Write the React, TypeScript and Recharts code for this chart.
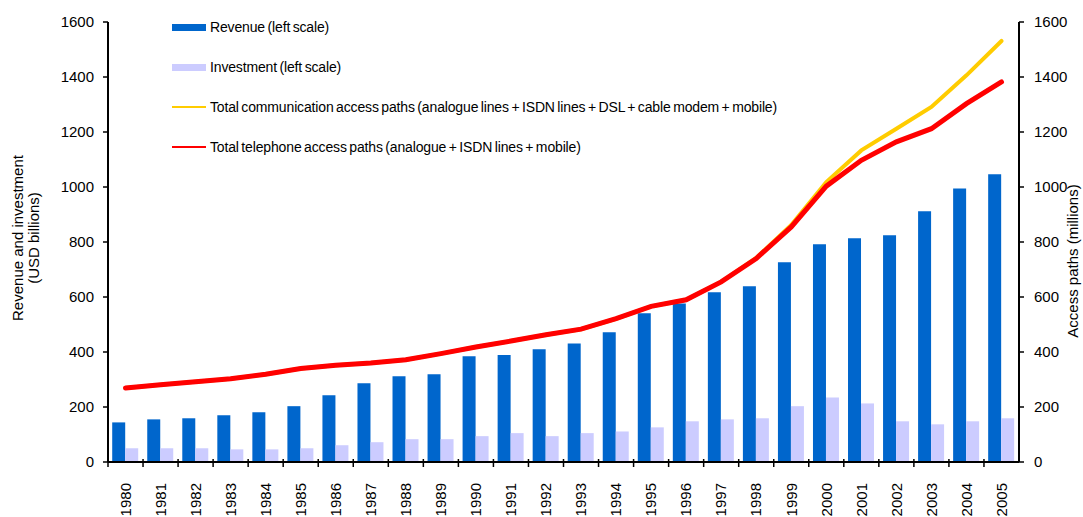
import { ComposedChart, Bar, Line, XAxis, YAxis, Legend } from "recharts";

const years = [
  "1980", "1981", "1982", "1983", "1984", "1985", "1986", "1987", "1988",
  "1989", "1990", "1991", "1992", "1993", "1994", "1995", "1996", "1997",
  "1998", "1999", "2000", "2001", "2002", "2003", "2004", "2005",
];
const revenue = [
  144, 155, 159, 170, 181, 203, 243, 286, 312, 319, 385, 389, 410, 431, 472,
  541, 576, 617, 639, 726, 792, 814, 825, 912, 995, 1046,
];
const investment = [
  50, 50, 50, 46, 46, 50, 61, 72, 83, 83, 94, 105, 94, 105, 111, 126, 148,
  155, 159, 203, 235, 213, 148, 137, 148, 159,
];
const communicationPaths = [
  269, 281, 292, 303, 319, 340, 352, 360, 372, 394, 418, 440, 463, 483, 521,
  566, 590, 655, 742, 862, 1018, 1133, 1212, 1291, 1406, 1531,
];
const telephonePaths = [
  269, 281, 292, 303, 319, 340, 352, 360, 372, 394, 418, 440, 463, 483, 521,
  566, 590, 655, 740, 855, 1003, 1097, 1164, 1212, 1303, 1382,
];
const axisTicks = [0, 200, 400, 600, 800, 1000, 1200, 1400, 1600];

const legendItems = [
  { label: "Revenue (left scale)", color: "#0066cc", kind: "bar" },
  { label: "Investment (left scale)", color: "#ccccff", kind: "bar" },
  {
    label:
      "Total communication access paths (analogue lines + ISDN lines + DSL + cable modem + mobile)",
    color: "#ffcc00",
    kind: "line",
  },
  {
    label: "Total telephone access paths (analogue + ISDN lines + mobile)",
    color: "#ff0000",
    kind: "line",
  },
];

const data = years.map((year, i) => ({
  year,
  revenue: revenue[i],
  investment: investment[i],
  communication: communicationPaths[i],
  telephone: telephonePaths[i],
}));

const W = 1083;
const H = 517;
const LEFT_W = 108;
const RIGHT_W = 64;
const BAND = (W - LEFT_W - RIGHT_W) / years.length;
const FONT = '"Liberation Sans", Arial, sans-serif';

function YearTick({ x, y, payload }: any) {
  const bx = x - BAND / 2;
  return (
    <g>
      <line x1={bx} x2={bx} y1={y - 3} y2={y + 5} stroke="#000" strokeWidth={1.5} />
      <text
        transform={`translate(${x},${y + 21}) rotate(-90)`}
        textAnchor="end"
        dy="0.35em"
        fontSize={15}
        fontFamily={FONT}
        fill="#000"
      >
        {payload.value}
      </text>
    </g>
  );
}

function LeftLabel({ viewBox }: any) {
  const cy = viewBox.y + viewBox.height / 2 - 4;
  return (
    <g fontFamily={FONT} fontSize={15} fill="#000">
      <text transform={`translate(18,${cy}) rotate(-90)`} textAnchor="middle" dy="0.35em">
        Revenue and investment
      </text>
      <text transform={`translate(34,${cy}) rotate(-90)`} textAnchor="middle" dy="0.35em">
        (USD billions)
      </text>
    </g>
  );
}

function RightLabel({ viewBox }: any) {
  const cy = viewBox.y + viewBox.height / 2 + 19;
  return (
    <text
      transform={`translate(1073,${cy}) rotate(-90)`}
      textAnchor="middle"
      dy="0.35em"
      fontFamily={FONT}
      fontSize={15}
      fill="#000"
    >
      Access paths (millions)
    </text>
  );
}

function ChartLegend() {
  return (
    <div
      style={{
        fontFamily: FONT,
        fontSize: 14,
        letterSpacing: -0.15,
        wordSpacing: -1.2,
        color: "#000",
      }}
    >
      {legendItems.map((item) => (
        <div
          key={item.label}
          style={{ height: 40, display: "flex", alignItems: "center", whiteSpace: "nowrap" }}
        >
          <span
            style={{
              display: "inline-block",
              width: 34,
              height: item.kind === "bar" ? 7 : 2,
              background: item.color,
              marginRight: 4,
            }}
          />
          <span>{item.label}</span>
        </div>
      ))}
    </div>
  );
}

export default function App() {
  return (
    <div style={{ position: "absolute", left: 0, top: 0, width: W, height: H, background: "#fff" }}>
      <ComposedChart
        width={W}
        height={H}
        data={data}
        margin={{ top: 22, right: 0, bottom: 0, left: 0 }}
        barCategoryGap="12%"
        barGap={0}
      >
        <XAxis
          dataKey="year"
          height={55}
          interval={0}
          tickSize={0}
          tickMargin={0}
          tick={<YearTick />}
          axisLine={{ stroke: "#000", strokeWidth: 2 }}
        />
        <YAxis
          yAxisId="left"
          width={LEFT_W}
          domain={[0, 1600]}
          ticks={axisTicks}
          interval={0}
          tickSize={5}
          tickMargin={9}
          axisLine={{ stroke: "#000", strokeWidth: 2 }}
          tickLine={{ stroke: "#000", strokeWidth: 1.5 }}
          tick={{ fill: "#000", fontSize: 15, fontFamily: FONT }}
          label={<LeftLabel />}
        />
        <YAxis
          yAxisId="right"
          orientation="right"
          width={RIGHT_W}
          domain={[0, 1600]}
          ticks={axisTicks}
          interval={0}
          tickSize={5}
          tickMargin={10}
          axisLine={{ stroke: "#000", strokeWidth: 2 }}
          tickLine={{ stroke: "#000", strokeWidth: 1.5 }}
          tick={{ fill: "#000", fontSize: 15, fontFamily: FONT }}
          label={<RightLabel />}
        />
        <Legend
          layout="vertical"
          align="center"
          verticalAlign="middle"
          content={() => <ChartLegend />}
          wrapperStyle={{ top: 7, left: 172, width: "auto" }}
        />
        <Bar yAxisId="left" dataKey="revenue" fill="#0066cc" isAnimationActive={false} />
        <Bar yAxisId="left" dataKey="investment" fill="#ccccff" isAnimationActive={false} />
        <Line
          yAxisId="right"
          dataKey="communication"
          stroke="#ffcc00"
          strokeWidth={4}
          dot={false}
          strokeLinecap="round"
          isAnimationActive={false}
        />
        <Line
          yAxisId="right"
          dataKey="telephone"
          stroke="#ff0000"
          strokeWidth={5}
          dot={false}
          strokeLinecap="round"
          isAnimationActive={false}
        />
      </ComposedChart>
    </div>
  );
}
